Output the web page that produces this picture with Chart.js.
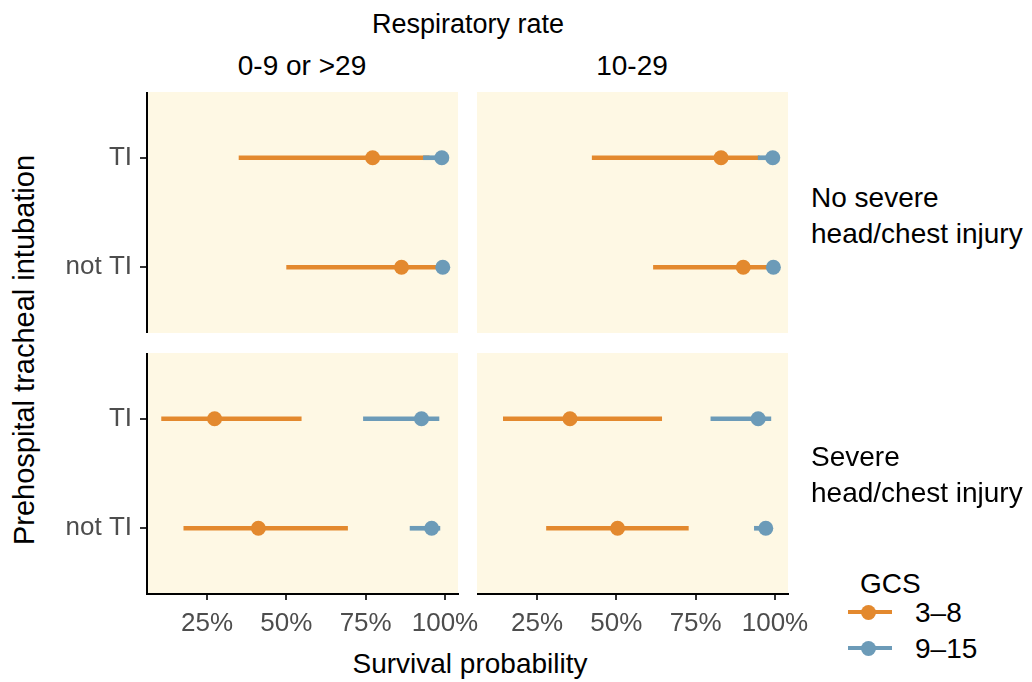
<!DOCTYPE html>
<html>
<head>
<meta charset="utf-8">
<script src="https://cdn.jsdelivr.net/npm/chart.js@4"></script>
<style>
  body { margin: 0; background: #fff; }
  #wrap { position: relative; width: 1032px; height: 682px; font-family: "Liberation Sans", Arial, sans-serif; color: #000; }
  #wrap canvas { position: absolute; }
  .txt { position: absolute; white-space: nowrap; line-height: 1; }
  .mid { transform: translate(-50%, -50%); }
  .key-line { position: absolute; height: 4px; width: 44px; }
  .key-dot { position: absolute; width: 15px; height: 15px; border-radius: 50%; }
</style>
</head>
<body>
<div id="wrap">
  <canvas id="p0" width="398" height="241" style="left:60px;top:92px"></canvas>
  <canvas id="p1" width="311" height="241" style="left:477px;top:92px"></canvas>
  <canvas id="p2" width="422" height="289" style="left:60px;top:353px"></canvas>
  <canvas id="p3" width="335" height="289" style="left:477px;top:353px"></canvas>

  <div class="txt mid" style="left:468px;top:24px;font-size:27px">Respiratory rate</div>
  <div class="txt mid" style="left:302px;top:66px;font-size:28px">0-9 or &gt;29</div>
  <div class="txt mid" style="left:632px;top:66px;font-size:28px">10-29</div>
  <div class="txt" style="left:811px;top:180px;font-size:28px;line-height:36px">No severe<br>head/chest injury</div>
  <div class="txt" style="left:811px;top:439px;font-size:28px;line-height:36px">Severe<br>head/chest injury</div>
  <div class="txt mid" style="left:24px;top:350px;font-size:29px;transform:translate(-50%,-50%) rotate(-90deg)">Prehospital tracheal intubation</div>
  <div class="txt mid" style="left:470px;top:664px;font-size:28px">Survival probability</div>

  <div class="txt" style="left:860px;top:570px;font-size:28px">GCS</div>
  <div class="key-line" style="left:848px;top:610px;background:#E3892E"></div>
  <div class="key-dot" style="left:861px;top:605px;background:#E3892E"></div>
  <div class="txt" style="left:915px;top:599px;font-size:28px">3–8</div>
  <div class="key-line" style="left:848px;top:646px;background:#6C9BB8"></div>
  <div class="key-dot" style="left:861px;top:641px;background:#6C9BB8"></div>
  <div class="txt" style="left:915px;top:635px;font-size:28px">9–15</div>
</div>

<script>
const rowLabels = ['TI', 'not TI'];
const xTicks = [0.25, 0.5, 0.75, 1];
const xMin = 0.061;
const xMax = 1.041;

// panels: [no severe / 0-9 or >29, no severe / 10-29, severe / 0-9 or >29, severe / 10-29]
// inner pairs: [TI, not TI]
const est38 = [[0.772, 0.863], [0.830, 0.900], [0.274, 0.412], [0.354, 0.504]];
const lo38  = [[0.351, 0.501], [0.424, 0.617], [0.107, 0.177], [0.144, 0.280]];
const hi38  = [[0.950, 0.985], [0.950, 0.985], [0.547, 0.693], [0.643, 0.727]];
const est915 = [[0.990, 0.993], [0.993, 0.995], [0.926, 0.958], [0.947, 0.971]];
const lo915  = [[0.932, 0.975], [0.947, 0.980], [0.743, 0.890], [0.798, 0.935]];
const hi915  = [[0.999, 0.999], [0.999, 0.999], [0.981, 0.984], [0.987, 0.989]];

const orange = '#E3892E';
const blue = '#6C9BB8';
const panelBg = '#FEF8E4';
const fontFam = '"Liberation Sans", Arial, sans-serif';

Chart.defaults.font.family = fontFam;

// fills the panel area before anything else is drawn
const panelFill = {
  id: 'panelFill',
  beforeDraw(chart) {
    const a = chart.chartArea;
    chart.ctx.save();
    chart.ctx.fillStyle = panelBg;
    chart.ctx.fillRect(a.left, a.top, a.right - a.left, a.bottom - a.top);
    chart.ctx.restore();
  }
};

function xScale(show) {
  const s = {
    type: 'linear',
    min: xMin,
    max: xMax,
    display: show,
    offset: false,
    beginAtZero: false,
    afterBuildTicks: sc => { sc.ticks = xTicks.map(v => ({ value: v })); },
    ticks: {
      callback: v => Math.round(v * 100) + '%',
      font: { size: 26 },
      color: '#4D4D4D',
      padding: 8,
      maxRotation: 0,
      autoSkip: false
    },
    grid: { offset: false, drawOnChartArea: false, drawTicks: true, tickLength: 6, color: '#333', lineWidth: 2 },
    border: { display: true, color: '#000', width: 2 }
  };
  // fixed axis height, label overhang handled by layout padding
  if (show) s.afterFit = sc => { sc.height = 48; sc.paddingLeft = 0; sc.paddingRight = 0; };
  return s;
}

function yScale(show) {
  const s = {
    type: 'linear',
    min: 0.4,
    max: 2.6,
    reverse: true,
    display: show,
    offset: false,
    afterBuildTicks: sc => { sc.ticks = [1, 2].map(v => ({ value: v })); },
    ticks: {
      callback: v => rowLabels[v - 1],
      font: { size: 26 },
      color: '#4D4D4D',
      padding: 8,
      autoSkip: false
    },
    grid: { offset: false, drawOnChartArea: false, drawTicks: true, tickLength: 7, color: '#333', lineWidth: 2 },
    border: { display: true, color: '#000', width: 2 }
  };
  if (show) s.afterFit = sc => { sc.width = 87; sc.paddingTop = 0; sc.paddingBottom = 0; };
  return s;
}

function makePanel(id, p, showX, showY, padRight) {
  const bars = (lo, hi) => rowLabels.map((r, i) => ({ y: i + 1, x: [lo[p][i], hi[p][i]] }));
  const pts = est => rowLabels.map((r, i) => ({ x: est[p][i], y: i + 1 }));
  new Chart(document.getElementById(id), {
    type: 'bar',
    data: {
      datasets: [
        { type: 'bar', label: '3–8', data: bars(lo38, hi38), backgroundColor: orange, indexAxis: 'y',
          barThickness: 4, grouped: false, order: 3 },
        { type: 'bar', label: '9–15', data: bars(lo915, hi915), backgroundColor: blue, indexAxis: 'y',
          barThickness: 4, grouped: false, order: 2 },
        { type: 'scatter', label: '3–8', data: pts(est38), backgroundColor: orange, borderWidth: 0,
          pointRadius: 7.5, showLine: false, order: 1, clip: false },
        { type: 'scatter', label: '9–15', data: pts(est915), backgroundColor: blue, borderWidth: 0,
          pointRadius: 7.5, showLine: false, order: 0, clip: false }
      ]
    },
    options: {
      responsive: false,
      animation: false,
      indexAxis: 'y',
      events: [],
      layout: { autoPadding: false, padding: { right: padRight || 0 } },
      plugins: { legend: { display: false }, tooltip: { enabled: false } },
      scales: { x: xScale(showX), y: yScale(showY) }
    },
    plugins: [panelFill]
  });
}

makePanel('p0', 0, false, true, 0);
makePanel('p1', 1, false, false, 0);
makePanel('p2', 2, true, true, 24);
makePanel('p3', 3, true, false, 24);
</script>
</body>
</html>
